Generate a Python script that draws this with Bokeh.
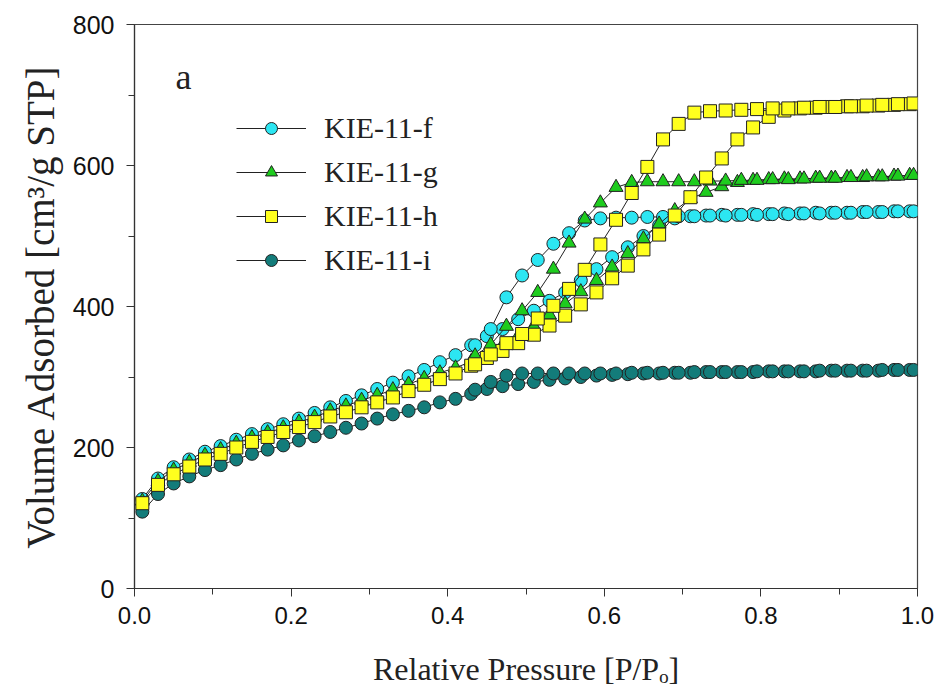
from bokeh.plotting import figure
from bokeh.models import Legend, LegendItem, Label, Range1d, FixedTicker
from bokeh.embed import file_html
from bokeh.resources import INLINE

# ---------------- data ----------------
ads_x = [0.01, 0.03, 0.05, 0.07, 0.09, 0.11, 0.13, 0.15, 0.17, 0.19,
         0.21, 0.23, 0.25, 0.27, 0.29, 0.31, 0.33, 0.35, 0.37, 0.39,
         0.41, 0.43, 0.45, 0.47, 0.49, 0.51, 0.53, 0.55, 0.57, 0.59,
         0.61, 0.63, 0.65, 0.67, 0.69, 0.71, 0.73, 0.75, 0.77, 0.79,
         0.81, 0.83, 0.85, 0.87, 0.89, 0.91, 0.93, 0.95, 0.97, 0.99]
des_x = [0.995, 0.975, 0.955, 0.935, 0.915, 0.895, 0.875, 0.855, 0.835, 0.815,
         0.795, 0.775, 0.755, 0.735, 0.715, 0.695, 0.675, 0.655, 0.635, 0.615,
         0.595, 0.575, 0.555, 0.535, 0.515, 0.495, 0.475, 0.455, 0.435]

f_ads = [127, 156, 172, 183, 194, 202, 211, 219, 226, 233,
         241, 249, 257, 266, 274, 283, 292, 301, 310, 321,
         331, 345, 358, 368, 382, 394, 408, 420, 437, 453,
         470, 484, 500, 515, 525, 528, 529, 530, 530, 531,
         531, 532, 532, 533, 533, 533, 534, 534, 535, 535]
f_des = [535, 535, 534, 534, 533, 533, 532, 532, 531, 531,
         530, 530, 529, 529, 528, 528, 527, 527, 526, 526,
         525, 522, 504, 489, 466, 444, 413, 368, 345]

g_ads = [124, 152, 168, 179, 189, 197, 206, 214, 221, 228,
         236, 243, 252, 259, 267, 274, 282, 290, 298, 306,
         313, 322, 332, 345, 358, 372, 388, 404, 421, 437,
         456, 475, 496, 517, 536, 553, 562, 570, 576, 579,
         580, 581, 581, 582, 582, 583, 583, 584, 585, 586]
g_des = [586, 585, 584, 584, 583, 582, 582, 581, 580, 580,
         579, 579, 578, 578, 577, 577, 577, 577, 576, 569,
         547, 524, 490, 453, 420, 394, 372, 346, 330]

h_ads = [121, 147, 162, 173, 183, 191, 200, 208, 215, 222,
         229, 236, 244, 250, 257, 264, 271, 280, 289, 297,
         305, 316, 327, 337, 348, 360, 373, 387, 403, 420,
         440, 458, 481, 502, 529, 555, 583, 610, 637, 654,
         669, 678, 681, 682, 683, 684, 684, 685, 686, 687]
h_des = [688, 687, 686, 685, 684, 683, 683, 682, 681, 681,
         680, 679, 678, 677, 675, 659, 637, 598, 561, 523,
         488, 452, 425, 401, 383, 361, 348, 332, 318]

i_ads = [109, 134, 149, 159, 168, 175, 183, 191, 197, 203,
         210, 216, 222, 228, 234, 241, 247, 252, 257, 264,
         269, 276, 283, 287, 290, 293, 296, 298, 300, 302,
         303, 304, 305, 305, 306, 306, 307, 307, 307, 307,
         308, 308, 308, 308, 309, 309, 309, 309, 310, 310]
i_des = [310, 310, 310, 309, 309, 309, 309, 308, 308, 308,
         308, 307, 307, 307, 307, 306, 306, 306, 306, 305,
         305, 305, 305, 305, 305, 305, 302, 293, 282]

series_names = ["KIE-11-f", "KIE-11-g", "KIE-11-h", "KIE-11-i"]
x_ticks = [0.0, 0.2, 0.4, 0.6, 0.8, 1.0]
y_ticks = [0, 200, 400, 600, 800]

# ---------------- figure ----------------
FW, FH = 935, 693
p = figure(width=FW, height=FH, output_backend="svg", toolbar_location=None,
           x_range=Range1d(0, 1.0), y_range=Range1d(0, 800),
           min_border_left=134, min_border_top=24, min_border_right=18,
           min_border_bottom=105)
p.background_fill_color = "white"
p.border_fill_color = "white"
p.xgrid.visible = False
p.ygrid.visible = False
p.outline_line_color = "#444444"
p.outline_line_width = 1.2

serif = "Liberation Serif"
sans = "Liberation Sans"

for ax in (p.xaxis[0], p.yaxis[0]):
    ax.axis_line_color = "#333333"
    ax.axis_line_width = 1.2
    ax.major_tick_line_color = "#333333"
    ax.minor_tick_line_color = "#333333"
    ax.major_tick_in = 0
    ax.major_tick_out = 8
    ax.minor_tick_in = 0
    ax.minor_tick_out = 6
    ax.major_label_text_font = sans
    ax.major_label_text_color = "#111111"
    ax.axis_label_text_font = serif
    ax.axis_label_text_font_style = "normal"
    ax.axis_label_text_color = "#222222"

p.xaxis.major_label_text_font_size = "24px"
p.yaxis.major_label_text_font_size = "25px"
p.xaxis.axis_label_text_font_size = "32px"
p.yaxis.axis_label_text_font_size = "39px"

p.xaxis.ticker = FixedTicker(ticks=x_ticks, minor_ticks=[0.1, 0.3, 0.5, 0.7, 0.9])
p.yaxis.ticker = FixedTicker(ticks=y_ticks, minor_ticks=[100, 300, 500, 700])
p.xaxis.major_label_overrides = {t: f"{t:.1f}" for t in x_ticks}
p.xaxis.major_label_standoff = 10
p.yaxis.major_label_standoff = 12
p.xaxis.axis_label = "Relative Pressure [P/Pₒ]"
p.yaxis.axis_label = "Volume Adsorbed [cm³/g STP]"
p.xaxis.axis_label_standoff = 24
p.yaxis.axis_label_standoff = 8

styles = {
    "KIE-11-f": dict(marker="circle", color="#2CE6F2", size=13, data=(f_ads, f_des)),
    "KIE-11-g": dict(marker="triangle", color="#1ECC1E", size=14, data=(g_ads, g_des)),
    "KIE-11-h": dict(marker="square", color="#FFFF1E", size=13, data=(h_ads, h_des)),
    "KIE-11-i": dict(marker="circle", color="#137C7A", size=13, data=(i_ads, i_des)),
}

renderers = {}
draw_order = ["KIE-11-i", "KIE-11-f", "KIE-11-g", "KIE-11-h"]
for name in draw_order:
    st = styles[name]
    ads, des = st["data"]
    xs = ads_x + des_x
    ys = ads + des
    ln = p.line(xs, ys, line_color="#222222", line_width=1)
    sc = p.scatter(xs, ys, marker=st["marker"], size=st["size"],
                   fill_color=st["color"], line_color="#222222", line_width=1)
    renderers[name] = (ln, sc)

items = [LegendItem(label=n, renderers=list(renderers[n])) for n in series_names]
legend = Legend(items=items, location=(102, 311), orientation="vertical",
                border_line_color=None, background_fill_alpha=0,
                glyph_width=70, glyph_height=30, label_height=30,
                spacing=10, padding=0, margin=0, label_standoff=18,
                label_text_font=serif, label_text_font_size="30px",
                label_text_color="#222222")
p.add_layout(legend, "center")

p.add_layout(Label(x=41, y=512, x_units="screen", y_units="screen", text="a",
                   text_font=serif, text_font_size="36px", text_color="#222222",
                   text_baseline="alphabetic"))

open("out.html", "w").write(file_html(p, INLINE))
